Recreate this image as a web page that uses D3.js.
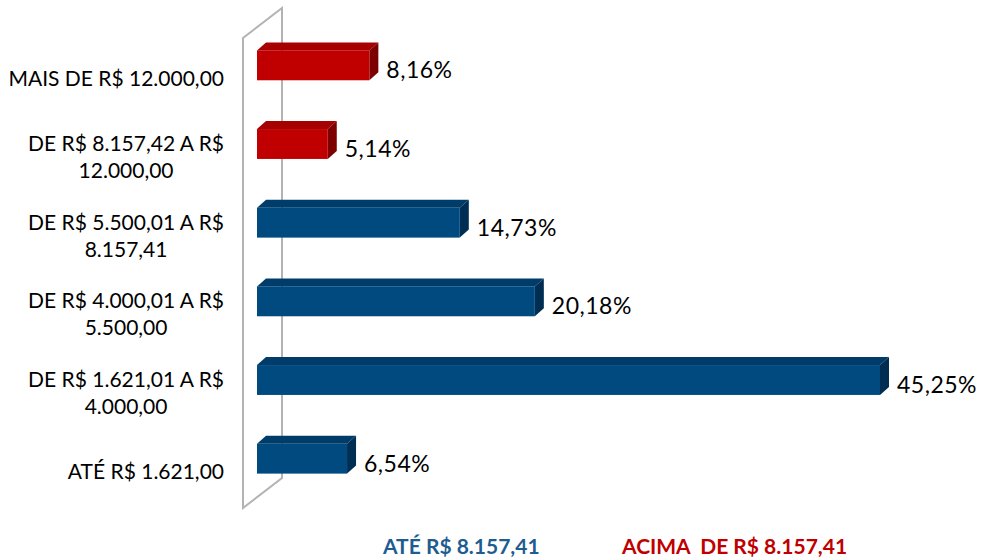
<!DOCTYPE html>
<html>
<head>
<meta charset="utf-8">
<script src="https://cdn.jsdelivr.net/npm/d3@7"></script>
<style>
  body { margin: 0; background: #fff; }
  svg { display: block; font-family: Lato, "Open Sans", sans-serif; }
</style>
</head>
<body>
<div id="viz"></div>
<script>
// data, top bar first
var categories = [
  ["MAIS DE R$ 12.000,00"],
  ["DE R$ 8.157,42 A R$", "12.000,00"],
  ["DE R$ 5.500,01 A R$", "8.157,41"],
  ["DE R$ 4.000,01 A R$", "5.500,00"],
  ["DE R$ 1.621,01 A R$", "4.000,00"],
  ["ATÉ R$ 1.621,00"]
];
var values = [8.16, 5.14, 14.73, 20.18, 45.25, 6.54];
var groups = ["acima", "acima", "ate", "ate", "ate", "ate"];
var valueLabels = ["8,16%", "5,14%", "14,73%", "20,18%", "45,25%", "6,54%"];
var legendLabels = ["ATÉ R$ 8.157,41", "ACIMA  DE R$ 8.157,41"];

var width = 984, height = 560;
var depthX = 9, depthY = 8;

var colors = {
  ate: { front: "#004a80", top: "#003c6a", side: "#002d52" },
  acima: { front: "#c00000", top: "#a60000", side: "#7c0000" }
};

var svg = d3.select("#viz").append("svg")
  .attr("width", width)
  .attr("height", height);

var x = d3.scaleLinear().domain([0, 45.25]).range([257, 880]);
var y = d3.scaleBand()
  .domain(d3.range(values.length))
  .range([26, 498])
  .paddingInner(0.62)
  .paddingOuter(0.31);

// back wall of the 3d plot
var wl = x(0) - 14, wr = wl + 39, wTop = 38, wBot = 508, wShift = 30;
svg.append("path")
  .attr("d", "M" + wl + "," + wBot + "L" + wl + "," + wTop + "L" + wr + "," + (wTop - wShift) +
    "L" + wr + "," + (wBot - wShift) + "Z")
  .attr("fill", "none")
  .attr("stroke", "#b3b3b3")
  .attr("stroke-width", 2);

var bars = svg.selectAll(".bar")
  .data(values)
  .enter()
  .append("g")
  .attr("class", "bar");

// top face
bars.append("path")
  .attr("d", function (d, i) {
    var x0 = x(0), x1 = x(d), y0 = y(i);
    return "M" + x0 + "," + y0 + "L" + (x0 + depthX) + "," + (y0 - depthY) +
      "L" + (x1 + depthX) + "," + (y0 - depthY) + "L" + x1 + "," + y0 + "Z";
  })
  .attr("fill", function (d, i) { return colors[groups[i]].top; });

// side face
bars.append("path")
  .attr("d", function (d, i) {
    var x1 = x(d), y0 = y(i), y1 = y(i) + y.bandwidth();
    return "M" + x1 + "," + y0 + "L" + (x1 + depthX) + "," + (y0 - depthY) +
      "L" + (x1 + depthX) + "," + (y1 - depthY) + "L" + x1 + "," + y1 + "Z";
  })
  .attr("fill", function (d, i) { return colors[groups[i]].side; });

// front face
bars.append("rect")
  .attr("x", x(0))
  .attr("y", function (d, i) { return y(i); })
  .attr("width", function (d) { return x(d) - x(0); })
  .attr("height", y.bandwidth())
  .attr("fill", function (d, i) { return colors[groups[i]].front; });

// value labels
svg.selectAll(".label")
  .data(values)
  .enter()
  .append("text")
  .attr("class", "label")
  .attr("x", function (d) { return x(d) + depthX + 8; })
  .attr("y", function (d, i) { return y(i) + y.bandwidth() / 2 + 5; })
  .attr("dy", "0.35em")
  .style("font-size", "23px")
  .style("letter-spacing", "0.5px")
  .style("fill", "#000")
  .text(function (d, i) { return valueLabels[i]; });

// category labels: block right-aligned, lines centred inside the block
var labelRight = 224, lineH = 27;
categories.forEach(function (lines, i) {
  var g = svg.append("g");
  var cy = y(i) + y.bandwidth() / 2 + 13;
  var texts = lines.map(function (s, j) {
    return g.append("text")
      .attr("y", cy + (j - (lines.length - 1) / 2) * lineH)
      .attr("dy", "0.35em")
      .style("font-size", "21px")
      .style("text-anchor", "middle")
      .text(s);
  });
  var maxW = d3.max(texts, function (t) { return t.node().getComputedTextLength(); });
  texts.forEach(function (t) { t.attr("x", labelRight - maxW / 2); });
});

// legend
svg.append("text")
  .attr("x", 383).attr("y", 554)
  .style("font-size", "21px").style("font-weight", "bold")
  .style("fill", "#1f5c8f")
  .text(legendLabels[0]);
svg.append("text")
  .attr("x", 622).attr("y", 554)
  .style("font-size", "21px").style("font-weight", "bold")
  .style("white-space", "pre")
  .style("fill", "#c00000")
  .text(legendLabels[1]);
</script>
</body>
</html>
